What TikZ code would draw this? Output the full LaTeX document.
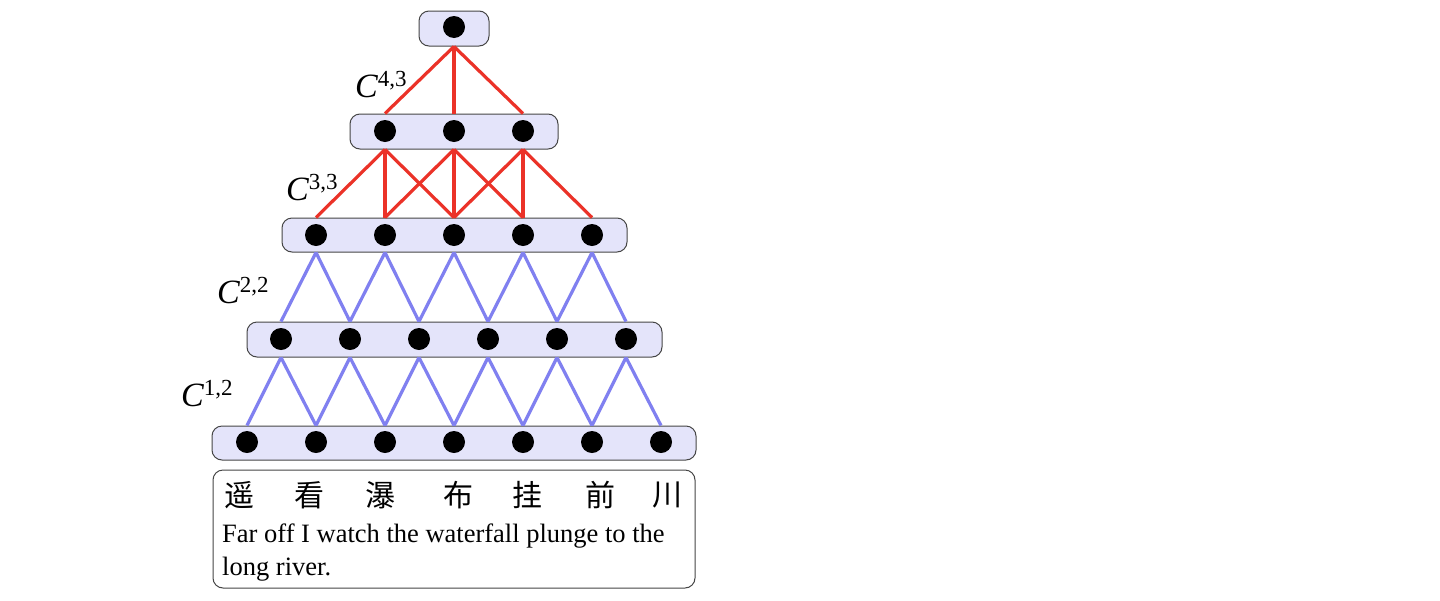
\documentclass[tikz,border=0pt]{standalone}
\usepackage{fontspec}
\setmainfont{Liberation Serif}
\newfontfamily\cjk{Noto Sans CJK SC}
\definecolor{boxfill}{RGB}{228,228,250}
\definecolor{boxline}{RGB}{70,70,70}
\definecolor{redline}{RGB}{235,50,40}
\definecolor{blueline}{RGB}{128,128,240}
\newcommand{\clab}[1]{{\fontsize{34}{34}\selectfont\itshape C}\raisebox{11pt}{\fontsize{23}{23}\selectfont #1}}
\tikzset{
  layerbox/.style={draw=boxline, line width=1pt, fill=boxfill, rounded corners=10pt, inner sep=0pt},
  dot/.style={circle, fill=black, minimum size=22pt, inner sep=0pt},
  redconn/.style={draw=redline, line width=3.2pt},
  blueconn/.style={draw=blueline, line width=3.2pt},
  clabel/.style={anchor=base west, inner sep=0pt},
  cjkchar/.style={font=\cjk\fontsize{30}{30}\selectfont, inner sep=0pt},
  textbox/.style={draw=boxline, line width=1pt, rounded corners=10pt, inner sep=0pt}
}
\begin{document}
\begin{tikzpicture}[x=1pt,y=-1pt]
\useasboundingbox[fill=white] (0,0) rectangle (1440,600);
% layer boxes
\node[layerbox, minimum width=484pt, minimum height=34pt] (b1) at (454,443) {};
\node[layerbox, minimum width=415pt, minimum height=35pt] (b2) at (454.5,339.5) {};
\node[layerbox, minimum width=345pt, minimum height=34pt] (b3) at (454.5,235) {};
\node[layerbox, minimum width=208pt, minimum height=35pt] (b4) at (454,131.5) {};
\node[layerbox, minimum width=70pt, minimum height=35pt] (b5) at (454,28.5) {};
% dots
\foreach \i in {1,...,7} \node[dot] (d1-\i) at ({247+69*(\i-1)},442) {};
\foreach \i in {1,...,6} \node[dot] (d2-\i) at ({281+69*(\i-1)},339) {};
\foreach \i in {1,...,5} \node[dot] (d3-\i) at ({316+69*(\i-1)},235) {};
\foreach \i in {1,...,3} \node[dot] (d4-\i) at ({385+69*(\i-1)},131) {};
\node[dot] (d5-1) at (454,27) {};
% blue connectors layer1 -> layer2
\foreach \i in {1,...,6}{
  \pgfmathtruncatemacro{\j}{\i+1}
  \draw[blueconn] (d2-\i |- b2.south) -- (d1-\i |- b1.north);
  \draw[blueconn] (d2-\i |- b2.south) -- (d1-\j |- b1.north);
}
% blue connectors layer2 -> layer3
\foreach \i in {1,...,5}{
  \pgfmathtruncatemacro{\j}{\i+1}
  \draw[blueconn] (d3-\i |- b3.south) -- (d2-\i |- b2.north);
  \draw[blueconn] (d3-\i |- b3.south) -- (d2-\j |- b2.north);
}
% red connectors layer3 -> layer4
\foreach \i in {1,...,3}{
  \foreach \k in {0,1,2}{
    \pgfmathtruncatemacro{\j}{\i+\k}
    \draw[redconn] (d4-\i |- b4.south) -- (d3-\j |- b3.north);
  }
}
% red connectors layer4 -> top
\foreach \k in {1,2,3}{
  \draw[redconn] (d5-1 |- b5.south) -- (d4-\k |- b4.north);
}
% labels
\node[clabel] (l4) at (355,97) {\clab{4,3}};
\node[clabel] (l3) at (286,200) {\clab{3,3}};
\node[clabel] (l2) at (217,303) {\clab{2,2}};
\node[clabel] (l1) at (181,406) {\clab{1,2}};
% text box
\node[textbox, minimum width=482pt, minimum height=118pt] (tb) at (454,529) {};
\node[cjkchar] (c1) at (239,495) {遥};
\node[cjkchar] (c2) at (309,495) {看};
\node[cjkchar] (c3) at (380,495) {瀑};
\node[cjkchar] (c4) at (458,495) {布};
\node[cjkchar] (c5) at (527,495) {挂};
\node[cjkchar] (c6) at (600,495) {前};
\node[cjkchar] (c7) at (667,495) {川};
\node[anchor=base west, align=left, inner sep=0pt, font=\fontsize{26.5}{33}\selectfont] (en) at (222,575) {Far off I watch the waterfall plunge to the\\long river.};
\end{tikzpicture}
\end{document}
